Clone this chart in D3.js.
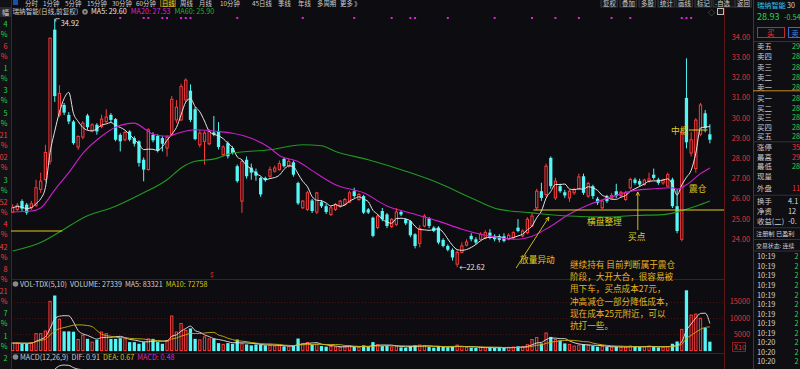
<!DOCTYPE html>
<html>
<head>
<meta charset="utf-8">
<script src="https://cdn.jsdelivr.net/npm/d3@7"></script>
<style>
  html, body { margin: 0; padding: 0; background: #0d0c11; overflow: hidden; }
  svg { display: block; font-family: "Noto Sans CJK SC", "Noto Sans", sans-serif; }
</style>
</head>
<body>
<svg id="chart" width="800" height="369"></svg>
<script>
// ---- daily candles (front-adjusted) ----
const opens = [25.35,25.48,25.89,25.72,25.56,25.68,26.47,26.96,27.86,34.38,30.16,30.65,30.16,29.83,28.57,29.06,30.13,29.39,29.67,29.59,
  29.83,30.16,29.95,29.17,28.93,29.34,29.01,28.85,27.94,27.45,29.17,29.12,29.01,28.52,29.17,29.91,29.91,30.90,31.36,30.44,
  28.68,28.85,28.73,29.29,29.34,28.19,28.76,28.52,27.62,25.89,27.94,27.55,27.35,27.04,27.04,27.12,27.37,27.45,27.98,27.62,
  27.81,26.79,25.56,25.48,25.92,25.35,25.84,25.64,25.23,25.48,25.64,25.73,25.84,26.38,25.97,26.14,25.48,25.07,24.58,25.40,
  25.23,24.63,24.74,25.35,24.99,24.90,24.25,23.80,24.66,25.02,24.58,24.58,23.97,23.67,23.48,22.77,23.35,23.71,24.17,24.00,
  24.00,24.08,24.33,24.17,24.15,24.15,24.00,24.08,24.58,24.17,24.33,24.66,25.56,26.38,26.22,28.03,26.05,26.63,26.33,26.05,
  26.30,26.50,27.12,26.14,26.63,26.01,25.56,26.14,26.05,26.38,26.17,25.97,26.55,26.96,26.88,26.71,26.88,27.20,26.96,26.79,
  26.63,26.96,25.64,24.00,31.00,28.27,27.50,29.20,30.24,29.20];
const highs = [25.73,25.80,25.98,25.80,25.90,26.95,27.30,28.68,33.96,34.92,31.63,30.75,30.30,29.90,29.15,29.85,30.21,29.75,29.75,30.17,
  30.44,30.25,30.00,29.25,29.35,29.40,29.10,28.90,28.05,29.50,29.30,29.20,29.10,29.15,31.10,30.90,31.70,31.97,31.67,30.55,
  29.40,29.35,29.45,30.10,29.80,28.65,28.85,28.60,27.70,27.95,28.10,27.75,27.50,27.10,27.10,27.60,27.65,27.90,28.05,28.00,
  27.90,26.85,25.95,26.40,26.00,26.35,25.95,25.75,25.65,25.80,25.95,26.05,26.40,26.55,26.30,26.20,25.55,25.12,25.25,25.55,
  25.30,25.05,25.55,25.45,25.05,24.95,24.30,24.70,25.25,25.10,24.65,24.65,24.05,23.75,23.55,23.45,23.85,24.00,24.30,24.10,
  24.35,24.45,24.50,24.25,24.25,24.30,24.30,24.40,25.00,24.50,25.10,25.30,26.50,26.80,27.75,28.10,27.05,26.75,26.45,26.45,
  26.55,27.25,27.25,26.85,26.70,26.10,25.95,26.20,26.30,26.75,26.40,26.40,27.05,27.05,27.00,27.00,27.30,27.50,27.05,27.00,
  27.30,27.05,26.50,29.29,32.96,29.30,30.00,30.75,30.40,29.70];
const lows = [25.30,25.40,25.40,25.22,25.45,25.60,26.30,26.85,27.70,30.80,30.05,30.15,29.70,28.68,28.43,28.95,29.42,29.30,29.18,29.50,
  29.75,29.80,28.85,28.35,28.85,28.85,28.60,27.60,26.87,27.40,28.80,28.30,28.35,28.10,29.10,29.75,29.85,30.80,29.80,28.90,
  28.55,27.70,28.65,29.10,28.45,28.10,28.00,28.20,26.80,25.31,27.00,26.95,26.90,26.10,26.85,27.05,27.30,27.40,27.55,27.55,
  27.10,25.70,25.50,25.40,25.30,25.25,25.55,25.25,25.15,25.40,25.55,25.65,25.80,26.05,25.90,25.25,25.25,24.10,24.50,24.90,
  24.55,24.55,24.65,25.15,24.70,24.10,23.55,23.60,24.60,24.55,24.35,23.75,23.60,23.40,22.95,22.62,23.30,23.65,23.90,23.75,
  23.95,24.00,24.00,23.90,23.85,23.85,23.95,24.00,24.35,24.10,24.25,24.60,25.45,25.90,26.10,26.50,25.95,26.30,26.05,25.85,
  26.20,26.45,26.20,26.05,26.00,25.70,25.50,25.80,26.00,26.05,26.10,25.90,26.45,26.70,26.60,26.65,26.80,26.95,26.70,26.70,
  26.55,25.55,24.30,23.90,28.50,28.10,27.30,29.10,29.30,28.75];
const closes = [25.56,25.68,25.52,25.32,25.76,26.55,26.88,28.30,33.96,31.09,31.22,30.27,29.83,28.76,29.09,29.75,29.55,29.67,29.34,29.95,
  30.05,29.91,28.93,28.85,29.29,28.93,28.73,27.78,27.45,29.42,28.90,28.40,28.73,29.06,30.93,30.54,31.56,31.88,29.91,28.96,
  29.26,29.26,29.34,29.18,28.57,28.57,28.11,28.27,26.88,27.86,27.12,27.30,27.15,26.22,26.93,27.45,27.53,27.75,27.62,27.86,
  27.20,25.78,25.89,26.30,25.40,26.30,25.64,25.35,25.56,25.73,25.89,25.97,26.30,26.14,26.22,25.32,25.32,24.17,25.15,24.99,
  24.66,24.99,25.35,25.23,24.79,24.20,23.67,24.53,25.15,24.66,24.41,23.84,23.67,23.48,23.10,23.35,23.67,23.87,24.00,23.84,
  24.25,24.33,24.08,24.00,23.97,23.92,24.20,24.33,24.41,24.41,24.99,25.15,26.38,26.05,27.62,26.63,26.88,26.38,26.17,26.38,
  26.47,27.09,26.30,26.76,26.14,25.81,25.89,25.89,26.17,26.14,26.33,26.30,26.96,26.79,26.71,26.93,26.99,27.04,26.79,26.93,
  27.20,25.64,24.41,29.29,28.80,28.93,29.90,30.65,29.50,28.93];
const volumes = [23000,23000,22000,22000,24000,52000,52000,60000,151000,169000,96000,59000,59000,58000,34000,47000,36000,26000,33000,57000,
  52000,36000,36000,38000,36000,26000,26000,21000,26000,36000,36000,26000,21000,31000,106000,57000,83000,62000,68000,36000,
  33000,42000,36000,36000,23000,19000,23000,21000,34000,21000,19000,16000,19000,18000,16000,17000,14000,15000,13000,12000,
  15000,37000,22000,25000,18000,20000,14000,12000,13000,11000,10000,12000,15000,12000,10000,16000,12000,26000,18000,14000,
  15000,11000,14000,10000,9000,14000,16000,17000,15000,11000,9000,14000,11000,10000,12000,17000,13000,10000,9000,8000,
  10000,9000,10000,8000,9000,8000,10000,11000,13000,12000,18000,34000,40000,22000,54000,42000,34000,31000,22000,19000,
  14000,17000,20000,17000,14000,12000,13000,12000,10000,12000,10000,11000,14000,13000,11000,12000,14000,13000,10000,11000,
  11975,21000,28000,65000,185000,109000,112000,99000,69266,27339];

// MA20 / MA60: [bar index, price]
const ma20Pts = [[0,25.35],[4,25.40],[6,25.55],[9,26.45],[12,27.30],[15,28.25],[19,29.10],[22,29.55],[26,29.75],[28,29.50],
  [30,29.20],[33,29.10],[36,29.30],[39,29.42],[44,29.34],[47,29.25],[51,29.00],[55,28.52],[57,28.15],[61,27.85],[64,27.40],
  [69,26.70],[75,26.30],[80,25.65],[85,25.30],[91,24.90],[96,24.50],[101,24.20],[104,24.08],[108,24.00],[111,24.15],
  [115,24.65],[119,25.25],[123,25.70],[128,26.10],[133,26.42],[137,26.50],[141,26.55],[142,26.48],[144,26.70],[147,27.25],[149,27.53]];
const ma60Pts = [[0,23.42],[6,23.84],[11,24.50],[15,25.06],[22,25.64],[28,26.30],[33,26.95],[36,27.53],[39,27.86],[43,27.97],
  [47,28.27],[55,28.43],[62,28.68],[66,28.63],[69,28.35],[76,27.94],[84,27.37],[91,26.79],[98,26.05],[104,25.48],[111,25.31],
  [119,25.15],[126,25.10],[133,25.18],[139,25.22],[142,25.35],[146,25.64],[149,25.90]];

const priceTicks = [34, 33, 32, 31, 30, 29, 28, 27, 26, 25, 24];
const volTicks = [150000, 100000, 50000];
const eventIdx = [23,28,29,32,33,36,37,38,48,62,73,81,85,86,93,103,111,116,121,128,132,143,144,145];

const toolbarItems = [['分时',25],['1分钟',43],['5分钟',65],['15分钟',87],['30分钟',112],['60分钟',136],['日线',162],
  ['周线',180],['月线',199],['10分钟',220],['45日线',252],['季线',278],['年线',298],['多周期',317],['更多 》',340]];
const toolButtons = [['复权',603],['叠加',622],['多股',641],['统计',660],['画线',678],['标记',697],['-自选',715],['返回',737]];
const leftStrip = [['4','g'],['6','r'],['1','g'],['3','g'],['5','g'],['21','r'],['02','r'],['3','g'],
  ['52','r'],['4','r'],['42','r'],['8','r'],['21','r'],['7','g'],['1','g'],['2','g']];
const bookLabels = ['卖五','卖四','卖三','卖二','卖一','买一','买二','买三','买四','买五'];
const bookVals = ['29','28','28','28','28','28','28','28','28','28'];
const statRows = [['涨停','35','r'],['最高','29','r'],['最低','28','g'],['现量','',''],['外盘','11','r']];
const finRows = [['换手','4.1'],['净资','12'],['收益(二)','-0.']];
const tickTimes = ['10:19','10:19','10:19','10:19','10:19','10:19','10:19','10:19','10:19','10:20','10:20','10:20'];
const annotLines = ['继续持有 目前判断属于震仓', '阶段，大开大合，很容易被', '甩下车，买点成本27元，',
  '冲高减仓一部分降低成本，', '现在成本25元附近，可以', '抗打一些。'];

// ---- colours ----
const BG = '#0d0c11', UP = '#ff3b3b', DN = '#54f6f6', GRID = '#4a1212';
const YEL = '#e3cc1c', TXT = '#cfcfcf', GRN = '#27d24a';

const svg = d3.select('#chart');
svg.append('rect').attr('width', 800).attr('height', 369).attr('fill', BG);

const N = closes.length;
const x = d3.scaleBand().domain(d3.range(N)).range([11, 711.5]).paddingInner(0.3);
const cx = i => x(i) + x.bandwidth() / 2;
const xi = i => x(0) + x.bandwidth() / 2 + i * x.step();   // fractional index
const y = d3.scaleLinear().domain([24, 34]).range([239.3, 37.3]);
const yVol = d3.scaleLinear().domain([0, 150000]).range([350.6, 301.7]);

// ---- panel frames ----
svg.append('line').attr('x1', 11).attr('x2', 724).attr('y1', 279.5).attr('y2', 279.5).attr('stroke', '#5c1414');
svg.append('line').attr('x1', 11).attr('x2', 724).attr('y1', 353.5).attr('y2', 353.5).attr('stroke', '#5c1414');
svg.append('line').attr('x1', 724.5).attr('x2', 724.5).attr('y1', 8).attr('y2', 369).attr('stroke', '#5c1414');
svg.selectAll('.vgrid').data(volTicks).join('line')
  .attr('x1', 11).attr('x2', 724).attr('y1', d => Math.round(yVol(d)) + 0.5).attr('y2', d => Math.round(yVol(d)) + 0.5)
  .attr('stroke', GRID).attr('stroke-dasharray', '1,2');

// ---- left cut-off strip ----
svg.append('rect').attr('x', 0).attr('y', 0).attr('width', 11).attr('height', 369).attr('fill', '#121116');
svg.append('line').attr('x1', 11.5).attr('x2', 11.5).attr('y1', 0).attr('y2', 369).attr('stroke', '#2e2d33');
svg.append('rect').attr('x', 0).attr('y', 7).attr('width', 11).attr('height', 10).attr('fill', '#2a2a2f');
svg.append('text').attr('x', 5.5).attr('y', 15).attr('text-anchor', 'middle').attr('font-size', 7).attr('fill', TXT).text('幅');
leftStrip.forEach((d, k) => {
  const c = d[1] === 'g' ? GRN : '#f03c3c';
  const yy = 24 + k * 22.3;
  svg.append('text').attr('x', 7.5).attr('y', yy + 2.5).attr('text-anchor', 'end').attr('font-size', 7.3).attr('fill', c).text(d[0]);
  if (yy + 12.5 < 368) svg.append('text').attr('x', 7.5).attr('y', yy + 12.5).attr('text-anchor', 'end').attr('font-size', 7.3).attr('fill', c).text('%');
});

// ---- toolbar (sits at the very top edge) ----
toolbarItems.forEach(d => {
  const sel = d[0] === '日线';
  if (sel) svg.append('rect').attr('x', d[1] - 1.5).attr('y', -2).attr('width', 15).attr('height', 8.5)
    .attr('fill', '#2b2a10').attr('stroke', '#6d6420');
  svg.append('text').attr('x', d[1]).attr('y', 5.6).attr('font-size', 6.4)
    .attr('fill', sel ? '#f2d21c' : TXT).text(d[0]);
});
svg.append('rect').attr('x', 13).attr('y', 0).attr('width', 5).attr('height', 5).attr('fill', '#1d4fa8');
toolButtons.forEach(d => {
  svg.append('rect').attr('x', d[1] - 2).attr('y', -3).attr('width', d[0].length * 6.4 + 3.5).attr('height', 10)
    .attr('fill', '#17161b').attr('stroke', '#3a393f');
  svg.append('text').attr('x', d[1]).attr('y', 5.6).attr('font-size', 6.4).attr('fill', TXT).text(d[0]);
});

// ---- main header ----
svg.append('text').attr('x', 12.5).attr('y', 14.3).attr('font-size', 6.6).attr('fill', TXT).text('瑞纳智能(日线,前复权)');
svg.append('circle').attr('cx', 85).attr('cy', 11.8).attr('r', 2.8).attr('fill', '#8a8a8a');
svg.append('circle').attr('cx', 85).attr('cy', 11.8).attr('r', 1.1).attr('fill', '#2a2a2a');
const ma = svg.append('text').attr('x', 91).attr('y', 14.3).attr('font-size', 7.2);
ma.append('tspan').attr('fill', '#e8e8e8').text('MA5: 29.60');
ma.append('tspan').attr('dx', 4).attr('fill', '#d62ad6').text('MA20: 27.53');
ma.append('tspan').attr('dx', 4).attr('fill', '#25b025').text('MA60: 25.90');
svg.selectAll('.evt').data(eventIdx).join('rect').attr('x', d => cx(d) - 1).attr('y', 17).attr('width', 2).attr('height', 2)
  .attr('fill', '#e020e0');
svg.append('text').attr('x', 708).attr('y', 15).attr('font-size', 7).attr('fill', '#9a9a9a').text('◇');
svg.append('rect').attr('x', 717.5).attr('y', 8.5).attr('width', 6).attr('height', 6).attr('fill', '#1a1a1a').attr('stroke', '#bdbdbd');

// ---- right price axis ----
svg.selectAll('.ptick').data(priceTicks).join('text')
  .attr('x', 750).attr('y', d => y(d) + 2.5).attr('text-anchor', 'end').attr('font-size', 7.3)
  .attr('fill', '#e0373a').text(d => d.toFixed(2));
svg.selectAll('.vtick').data(volTicks).join('text')
  .attr('x', 750).attr('y', d => yVol(d) + 2.5).attr('text-anchor', 'end').attr('font-size', 7.3)
  .attr('fill', '#e0373a').text(d => d / 10);
svg.append('rect').attr('x', 732.5).attr('y', 342.5).attr('width', 13).attr('height', 9).attr('fill', 'none').attr('stroke', '#8a1a1a');
svg.append('text').attr('x', 734).attr('y', 349.7).attr('font-size', 7).attr('fill', '#e0373a').text('X10');

// ---- candles ----
const main = svg.append('g').attr('clip-path', 'url(#clipMain)');
svg.append('clipPath').attr('id', 'clipMain').append('rect').attr('x', 11).attr('y', 17).attr('width', 713).attr('height', 262);
const bw = x.bandwidth();
d3.range(N).forEach(i => {
  const o = opens[i], c = closes[i], h = highs[i], l = lows[i];
  const up = c >= o;
  const top = y(Math.max(o, c)), bot = y(Math.min(o, c));
  if (up) {
    main.append('line').attr('x1', cx(i)).attr('x2', cx(i)).attr('y1', y(h)).attr('y2', top).attr('stroke', UP);
    main.append('line').attr('x1', cx(i)).attr('x2', cx(i)).attr('y1', bot).attr('y2', y(l)).attr('stroke', UP);
    main.append('rect').attr('x', x(i) + 0.5).attr('y', top).attr('width', bw - 1).attr('height', Math.max(1, bot - top))
      .attr('fill', BG).attr('stroke', UP).attr('stroke-width', 1);
  } else {
    main.append('line').attr('x1', cx(i)).attr('x2', cx(i)).attr('y1', y(h)).attr('y2', y(l)).attr('stroke', DN);
    main.append('rect').attr('x', x(i)).attr('y', top).attr('width', bw).attr('height', Math.max(1, bot - top)).attr('fill', DN);
  }
});

// ---- moving averages ----
const ma5 = closes.map((c, i) => d3.mean(closes.slice(Math.max(0, i - 4), i + 1)));
const line = d3.line().curve(d3.curveMonotoneX);
main.append('path').attr('d', line(ma5.map((v, i) => [cx(i), y(v)]))).attr('fill', 'none').attr('stroke', '#e4e4e4').attr('stroke-width', 1);
main.append('path').attr('d', line(ma20Pts.map(d => [xi(d[0]), y(d[1])]))).attr('fill', 'none').attr('stroke', '#cc1fcc').attr('stroke-width', 1.1);
main.append('path').attr('d', line(ma60Pts.map(d => [xi(d[0]), y(d[1])]))).attr('fill', 'none').attr('stroke', '#1f9a22').attr('stroke-width', 1.1);

// ---- high / low markers ----
const hi = d3.maxIndex(highs), lo = d3.minIndex(lows);
main.append('path').attr('d', `M${cx(hi) + 1},${y(highs[hi]) + 3}V${y(highs[hi])}H${cx(hi) + 5}`).attr('fill', 'none').attr('stroke', '#dddddd').attr('stroke-width', 0.8);
svg.append('text').attr('x', cx(hi) + 6).attr('y', y(highs[hi]) + 7).attr('font-size', 7.3).attr('fill', '#e6e6e6').text(highs[hi].toFixed(2));
svg.append('text').attr('x', cx(lo) + 2).attr('y', y(lows[lo]) + 2.8).attr('font-size', 7.3).attr('fill', '#e6e6e6').text('←' + lows[lo].toFixed(2));
svg.append('text').attr('x', 210).attr('y', 277).attr('font-size', 6.5).attr('fill', '#e0373a').text('$');

// ---- hand-drawn annotations ----
main.append('line').attr('x1', 11).attr('x2', xi(10.6)).attr('y1', y(24.41)).attr('y2', y(24.41)).attr('stroke', YEL).attr('stroke-width', 1.2);
main.append('line').attr('x1', xi(111.3)).attr('x2', 724).attr('y1', y(25.45)).attr('y2', y(25.45)).attr('stroke', YEL).attr('stroke-width', 1.2);
main.append('line').attr('x1', xi(144.5)).attr('x2', xi(148.5)).attr('y1', y(29.41)).attr('y2', y(29.41)).attr('stroke', YEL).attr('stroke-width', 1);
function arrow(x1, y1, x2, y2) {
  const a = Math.atan2(y2 - y1, x2 - x1), s = 4;
  svg.append('line').attr('x1', x1).attr('y1', y1).attr('x2', x2).attr('y2', y2).attr('stroke', YEL).attr('stroke-width', 0.9);
  svg.append('path').attr('d', `M${x2},${y2}L${x2 - s * Math.cos(a - 0.45)},${y2 - s * Math.sin(a - 0.45)}M${x2},${y2}L${x2 - s * Math.cos(a + 0.45)},${y2 - s * Math.sin(a + 0.45)}`)
    .attr('stroke', YEL).attr('stroke-width', 0.9).attr('fill', 'none');
}
arrow(xi(107.6), y(22.58), xi(114.6), y(25.1));
arrow(xi(133.6), y(24.46), xi(133.6), y(26.34));
const note = (t, xx, yy) => svg.append('text').attr('x', xx).attr('y', yy).attr('font-size', 8.7).attr('fill', YEL).text(t);
note('放量异动', 520, 262.5);
note('横盘整理', 587, 225);
note('买点', 628, 239.5);
note('震仓', 689, 192);
note('中枢', 671, 134);
svg.selectAll('.ann').data(annotLines).join('text')
  .attr('x', 570).attr('y', (d, k) => 268 + k * 12.2).attr('font-size', 8.6).attr('fill', '#e8b622').text(d => d);

// ---- volume ----
const vh = svg.append('text').attr('x', 20).attr('y', 286.5).attr('font-size', 7.2);
svg.append('circle').attr('cx', 15.5).attr('cy', 284).attr('r', 2.8).attr('fill', '#8a8a8a');
vh.append('tspan').attr('fill', TXT).text('VOL-TDX(5,10)');
vh.append('tspan').attr('dx', 3).attr('fill', TXT).text('VOLUME: ' + volumes[N - 1]);
const vma5 = volumes.map((v, i) => d3.mean(volumes.slice(Math.max(0, i - 4), i + 1)));
const vma10 = volumes.map((v, i) => d3.mean(volumes.slice(Math.max(0, i - 9), i + 1)));
vh.append('tspan').attr('dx', 3).attr('fill', TXT).text('MA5: ' + Math.round(vma5[N - 1]));
vh.append('tspan').attr('dx', 3).attr('fill', '#d8c21a').text('MA10: ' + Math.round(vma10[N - 1]));
d3.range(N).forEach(i => {
  const up = closes[i] >= opens[i];
  const t = yVol(volumes[i]), b = yVol(0);
  if (up) svg.append('rect').attr('x', x(i) + 0.5).attr('y', t).attr('width', bw - 1).attr('height', b - t)
    .attr('fill', 'none').attr('stroke', UP);
  else svg.append('rect').attr('x', x(i)).attr('y', t).attr('width', bw).attr('height', b - t + 0.5).attr('fill', DN);
});
svg.append('path').attr('d', line(vma5.map((v, i) => [cx(i), yVol(v)]))).attr('fill', 'none').attr('stroke', '#e4e4e4').attr('stroke-width', 0.9);
svg.append('path').attr('d', line(vma10.map((v, i) => [cx(i), yVol(v)]))).attr('fill', 'none').attr('stroke', '#c9b20e').attr('stroke-width', 0.9);

// ---- MACD (only its header and the top of DIF are in view) ----
const ema = (arr, n) => { const k = 2 / (n + 1); let e = arr[0]; return arr.map(v => (e = v * k + e * (1 - k))); };
const e12 = ema(closes, 12), e26 = ema(closes, 26);
const dif = e12.map((v, i) => v - e26[i]);
const yMacd = d3.scaleLinear().domain([d3.max(dif) - 1, d3.max(dif)]).range([385, 365]);
svg.append('clipPath').attr('id', 'clipMacd').append('rect').attr('x', 11).attr('y', 361).attr('width', 713).attr('height', 10);
svg.append('path').attr('clip-path', 'url(#clipMacd)').attr('d', line(dif.map((v, i) => [cx(i), yMacd(v)])))
  .attr('fill', 'none').attr('stroke', '#e4e4e4').attr('stroke-width', 0.9);
svg.append('circle').attr('cx', 15.5).attr('cy', 357).attr('r', 2.8).attr('fill', '#8a8a8a');
const mh = svg.append('text').attr('x', 20).attr('y', 359.5).attr('font-size', 7.2);
mh.append('tspan').attr('fill', TXT).text('MACD(12,26,9)');
mh.append('tspan').attr('dx', 3).attr('fill', TXT).text('DIF: 0.91');
mh.append('tspan').attr('dx', 3).attr('fill', '#d8c21a').text('DEA: 0.67');
mh.append('tspan').attr('dx', 3).attr('fill', '#d62ad6').text('MACD: 0.48');

// ---- right quote panel ----
const P = 753;
svg.append('rect').attr('x', P).attr('y', 0).attr('width', 800 - P).attr('height', 369).attr('fill', '#0f0e13');
svg.append('line').attr('x1', P + 0.5).attr('x2', P + 0.5).attr('y1', 0).attr('y2', 369).attr('stroke', '#3a3940');
const rp = (t, xx, yy, c, fs) => svg.append('text').attr('x', xx).attr('y', yy).attr('font-size', fs || 7.4).attr('fill', c || TXT).text(t);
rp('瑞纳智能', 757, 8, '#38c5e6', 7.2);
rp('30', 787, 8, '#d0d0d0', 7.2);
rp('28.93', 757, 19.8, GRN, 9);
rp('-0.54', 784, 19.8, GRN, 7.2);
svg.append('rect').attr('x', 757.5).attr('y', 27.5).attr('width', 27).attr('height', 10).attr('fill', 'none').attr('stroke', '#c22a2a');
rp('买', 767, 35.5, '#e83a3a', 7.5);
svg.append('rect').attr('x', 788.5).attr('y', 27.5).attr('width', 20).attr('height', 10).attr('fill', 'none').attr('stroke', '#2c6fd0');
rp('卖', 791.5, 35.5, '#3b82e6', 7.2);
bookLabels.forEach((t, k) => {
  const yy = (k < 5 ? 46.7 + k * 10.1 : 98.7 + (k - 5) * 9.5) + 2.6;
  rp(t, 757, yy);
  rp(bookVals[k], 792, yy, GRN);
});
svg.append('line').attr('x1', P).attr('x2', 800).attr('y1', 90.8).attr('y2', 90.8).attr('stroke', '#c98a1c');
[41.5, 141.8, 195.2, 227.8, 239.5, 251].forEach(v =>
  svg.append('line').attr('x1', P).attr('x2', 800).attr('y1', v).attr('y2', v).attr('stroke', '#34333a'));
statRows.forEach((d, k) => {
  const yy = [147.3, 157.3, 166.7, 176.7, 188.3][k] + 2.6;
  rp(d[0], 757, yy);
  rp(d[1], 792, yy, d[2] === 'r' ? '#ee3434' : GRN);
});
finRows.forEach((d, k) => {
  const yy = [201.7, 211.3, 221][k] + 2.6;
  rp(d[0], 757, yy);
  rp(d[1], 788, yy, '#dcdcdc');
});
rp('注册制 已盈利', 756, 236, TXT, 6.2);
rp('交易状态: 连续', 756, 248.3, TXT, 5.9);
tickTimes.forEach((t, k) => {
  const yy = 256.7 + k * 9.55 + 2.6;
  rp(t, 757, yy);
  rp('2', 794.5, yy, GRN);
});
</script>
</body>
</html>
